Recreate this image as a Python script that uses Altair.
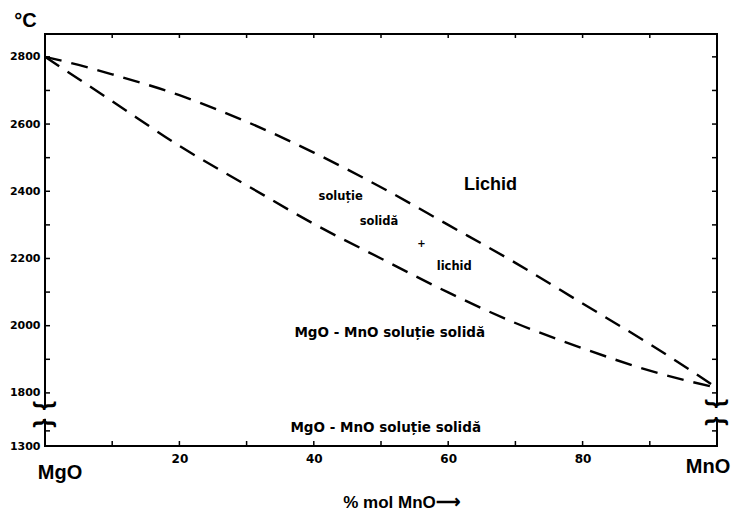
import altair as alt
import pandas as pd

# ---- data ----
x_pct = [0, 5, 10, 20, 30, 40, 50, 60, 70, 80, 90, 100]
liquidus = [2800, 2776, 2748, 2686, 2607, 2515, 2412, 2300, 2187, 2066, 1945, 1815]
solidus = [2800, 2734, 2668, 2535, 2418, 2303, 2200, 2099, 2008, 1933, 1866, 1815]

y_major = [2800, 2600, 2400, 2200, 2000, 1800, 1300]
y_minor = [2800, 2700, 2600, 2500, 2400, 2300, 2200, 2100, 2000, 1900, 1800, 1400]
x_major = [20, 40, 60, 80]
x_minor = [10, 20, 30, 40, 50, 60, 70, 80, 90]

small_text = ["soluție", "solidă", "lichid"]
small_x = [44.0, 49.7, 60.9]
small_t = [2382, 2308, 2176]
plus_x, plus_t = [56.0], [2243]
liquid_text, liquid_x, liquid_t = ["Lichid"], [66.3], [2418]
region_text = ["MgO - MnO soluție solidă", "MgO - MnO soluție solidă"]
region_x = [51.3, 50.7]
region_t = [1979, 1420]

# broken temperature axis: below 1800 the scale is compressed
CUT, LOW_START, LOW_SCALE = 1800, 1642, 0.45
def disp(t):
    return t if t >= CUT else LOW_START + (t - 1300) * LOW_SCALE

Y_DOMAIN = [1642, 2868]
BREAK_UP, BREAK_DN = 1768, 1716  # break symbols on the display scale

BOLD_W = "DejaVu Sans"
ARIAL = "Liberation Sans"

xs = alt.Scale(domain=[0, 100], nice=False, zero=False)
ys = alt.Scale(domain=Y_DOMAIN, nice=False, zero=False)

X_AX = alt.Axis(
    values=x_major, format="d", domain=False, ticks=False, grid=False,
    labelFont=BOLD_W, labelFontWeight="bold", labelFontSize=12, labelPadding=7,
    labelColor="black",
    title="% mol MnO⟶", titleFont=ARIAL, titleFontWeight="bold", titleFontSize=17,
    titleColor="black", titleX=356, titleY=61, titleAlign="center",
    titleBaseline="alphabetic")
Y_AX = alt.Axis(
    values=[disp(v) for v in y_major], domain=False, ticks=False, grid=False,
    labelExpr="datum.value < 1700 ? '1300' : format(datum.value, 'd')",
    labelFont=BOLD_W, labelFontWeight="bold", labelFontSize=11, labelPadding=5,
    labelColor="black",
    title="°C", titleAngle=0, titleFont=ARIAL, titleFontWeight="bold", titleFontSize=20,
    titleColor="black", titleX=-20, titleY=-14, titleAlign="center", titleBaseline="middle")

def X():
    return alt.X("x:Q", scale=xs, axis=X_AX, title="% mol MnO⟶")
def Y():
    return alt.Y("d:Q", scale=ys, axis=Y_AX, title="°C")

lines = pd.DataFrame({
    "x": x_pct * 2,
    "d": [disp(v) for v in liquidus + solidus],
    "curve": ["liquidus"] * len(x_pct) + ["solidus"] * len(x_pct),
})

base = alt.Chart(lines).mark_line(
    color="black", strokeWidth=2.4, strokeDash=[17, 10], interpolate="monotone"
).encode(x=X(), y=Y(), detail="curve:N")

ymin_df = pd.DataFrame({"d": [disp(v) for v in y_minor]})
xmin_df = pd.DataFrame({"x": x_minor})

tick_l = alt.Chart(ymin_df).mark_rule(color="black", strokeWidth=1.5).encode(
    y=Y(), x=alt.value(0), x2=alt.value(5))
tick_r = alt.Chart(ymin_df).mark_rule(color="black", strokeWidth=1.5).encode(
    y=Y(), x=alt.value(672), x2=alt.value(667))
tick_b = alt.Chart(xmin_df).mark_rule(color="black", strokeWidth=1.5).encode(
    x=X(), y=alt.value(412), y2=alt.value(407))
tick_t = alt.Chart(xmin_df).mark_rule(color="black", strokeWidth=1.5).encode(
    x=X(), y=alt.value(0), y2=alt.value(4))

small_df = pd.DataFrame({"t": small_text, "x": small_x, "d": [disp(v) for v in small_t]})
small = alt.Chart(small_df).mark_text(font=BOLD_W, fontWeight="bold", fontSize=11.5,
                                      color="black").encode(x=X(), y=Y(), text="t:N")
plus_df = pd.DataFrame({"t": ["+"], "x": plus_x, "d": [disp(v) for v in plus_t]})
plus = alt.Chart(plus_df).mark_text(font=BOLD_W, fontWeight="bold", fontSize=10,
                                    color="black").encode(x=X(), y=Y(), text="t:N")
liq_df = pd.DataFrame({"t": liquid_text, "x": liquid_x, "d": [disp(v) for v in liquid_t]})
liq = alt.Chart(liq_df).mark_text(font=ARIAL, fontWeight="bold", fontSize=18,
                                  color="black").encode(x=X(), y=Y(), text="t:N")
reg_df = pd.DataFrame({"t": region_text, "x": region_x, "d": [disp(v) for v in region_t]})
reg = alt.Chart(reg_df).mark_text(font=BOLD_W, fontWeight="bold", fontSize=13.5,
                                  color="black").encode(x=X(), y=Y(), text="t:N")

# end-member labels under the axis
end_df = pd.DataFrame({"t": ["MgO", "MnO"], "x": [0, 100]})
end_l = alt.Chart(end_df).transform_filter("datum.x == 0").mark_text(
    font=ARIAL, fontWeight="bold", fontSize=20, color="black", dx=15).encode(
    x=X(), y=alt.value(439), text="t:N")
end_r = alt.Chart(end_df).transform_filter("datum.x == 100").mark_text(
    font=ARIAL, fontWeight="bold", fontSize=20, color="black", dx=-9).encode(
    x=X(), y=alt.value(433), text="t:N")

# axis break: white gap over the frame plus brace symbols
gap_df = pd.DataFrame({"d": [BREAK_UP - 7], "d2": [BREAK_DN + 7]})
gap_l = alt.Chart(gap_df).mark_rect(color="white").encode(
    x=alt.value(-3), x2=alt.value(3), y=Y(), y2="d2:Q")
gap_r = alt.Chart(gap_df).mark_rect(color="white").encode(
    x=alt.value(669), x2=alt.value(675), y=Y(), y2="d2:Q")
brace_df = pd.DataFrame({"t": ["}", "{"], "d": [BREAK_UP, BREAK_DN]})
br_l = alt.Chart(brace_df).mark_text(font=ARIAL, fontWeight="bold", fontSize=24, angle=90,
                                     color="black", dx=2).encode(
    y=Y(), x=alt.value(0), text="t:N")
br_r = alt.Chart(brace_df).mark_text(font=ARIAL, fontWeight="bold", fontSize=24, angle=90,
                                     color="black", dx=0).encode(
    y=Y(), x=alt.value(672), text="t:N")

chart = alt.layer(
    base, tick_l, tick_r, tick_b, tick_t, small, plus, liq, reg, end_l, end_r,
    gap_l, gap_r, br_l, br_r
).properties(
    width=672, height=412,
    padding={"left": 37, "top": 26, "right": 14, "bottom": 66},
    autosize=alt.AutoSizeParams(type="none"),
    background="white",
).configure_view(stroke="black", strokeWidth=2)

chart.save("out.html", embed_options={"renderer": "svg", "actions": False})
